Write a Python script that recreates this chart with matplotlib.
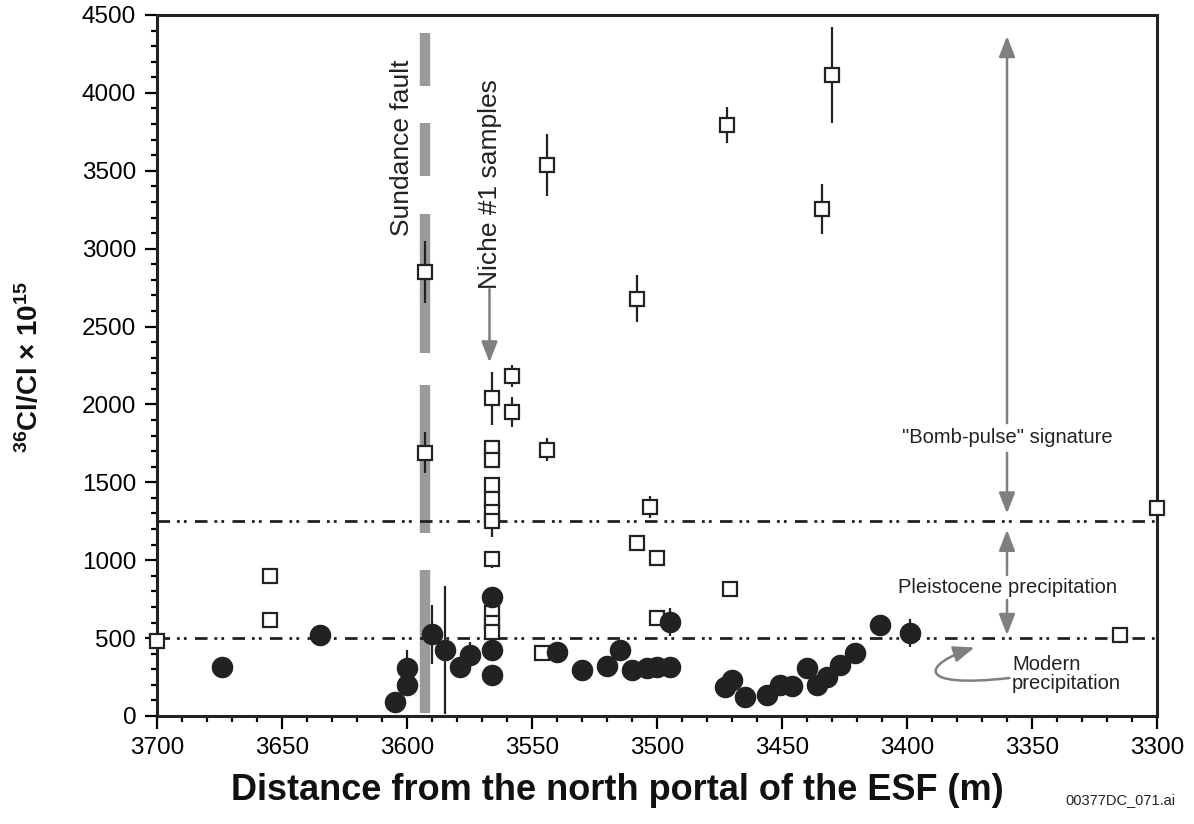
import matplotlib
matplotlib.use("Agg")
import matplotlib.pyplot as plt
from matplotlib.patches import FancyArrowPatch
from matplotlib.path import Path
from matplotlib.ticker import MultipleLocator

plt.rcParams['font.family'] = ['Liberation Sans', 'DejaVu Sans']
plt.rcParams['mathtext.fontset'] = 'custom'
plt.rcParams['mathtext.rm'] = 'Liberation Sans:bold'
plt.rcParams['mathtext.bf'] = 'Liberation Sans:bold'
plt.rcParams['mathtext.default'] = 'bf'

# open squares: distance (m), 36Cl/Cl x 1e15, error
sq_x = [3700, 3655, 3655, 3593, 3593,
        3566, 3566, 3566, 3566, 3566, 3566, 3566, 3566, 3566, 3566, 3566,
        3558, 3558, 3544, 3544, 3546, 3508,
        3503, 3508, 3500, 3471, 3500,
        3472, 3430, 3434, 3300, 3315]
sq_y = [480, 900, 616, 2850, 1690,
        2040, 1720, 1645, 1485, 1390, 1310, 1250, 1005, 660, 600, 540,
        2180, 1950, 1710, 3535, 404, 2680,
        1342, 1110, 1014, 815, 629,
        3794, 4115, 3254, 1335, 520]
sq_err = [0, 0, 0, 200, 130,
          170, 40, 40, 40, 30, 30, 100, 55, 30, 30, 30,
          70, 95, 75, 200, 0, 150,
          70, 40, 50, 0, 0,
          115, 310, 160, 0, 0]

# filled circles
ci_x = [3674, 3635, 3605, 3600, 3600, 3590, 3585, 3579, 3575,
        3566, 3566, 3566, 3540, 3530, 3520, 3515, 3510, 3504, 3500, 3495, 3495,
        3473, 3470, 3465, 3456, 3451, 3446, 3440, 3436, 3432, 3427, 3421,
        3411, 3399]
ci_y = [315, 520, 90, 200, 308, 525, 424, 315, 392,
        764, 424, 263, 411, 295, 320, 424, 295, 308, 315, 315, 603,
        186, 231, 122, 135, 199, 190, 308, 199, 250, 327, 404,
        584, 532]
ci_err = [0, 0, 0, 0, 115, 190, 410, 0, 80,
          0, 0, 0, 0, 0, 0, 0, 0, 0, 0, 0, 90,
          0, 0, 0, 0, 0, 0, 0, 0, 0, 0, 0,
          0, 90]

# Sundance fault trace (dashed band) and reference levels
fault_x = 3593
fault_lo = [4045, 3468, 2333, 1173, 19]
fault_hi = [4385, 3808, 3224, 2122, 936]
bomb_level = 1250
modern_level = 500

fig = plt.figure(figsize=(11.94, 8.24), dpi=100)
ax = fig.add_axes([157 / 1194, 108 / 824, 1000 / 1194, 701 / 824])

ax.vlines([fault_x] * len(fault_lo), fault_lo, fault_hi, colors='#9a9a9a',
          linewidth=7.5, zorder=1)

dd = (0, (4.5, 2.5, 1, 1.5, 1, 3))
for lev in [bomb_level, modern_level]:
    ax.axhline(lev, color='#222222', lw=2.0, linestyle=dd, zorder=2)

sq = ax.errorbar(sq_x, sq_y, yerr=sq_err, fmt='s', ms=9.5, mfc='white',
                 mec='#222222', mew=1.6, ecolor='#222222', elinewidth=1.6,
                 capsize=0, zorder=4)
sq[0].set_clip_on(False)
ax.errorbar(ci_x, ci_y, yerr=ci_err, fmt='o', ms=14.5, mfc='#222222',
            mec='#222222', ecolor='#222222', elinewidth=1.6, capsize=0,
            zorder=5)

ax.set_xlim(3700, 3300)
ax.set_ylim(0, 4500)
ax.xaxis.set_major_locator(MultipleLocator(50))
ax.xaxis.set_minor_locator(MultipleLocator(10))
ax.yaxis.set_major_locator(MultipleLocator(500))
ax.yaxis.set_minor_locator(MultipleLocator(100))
ax.tick_params(which='both', direction='out', width=1.6, labelsize=17.5,
               top=False, right=False)
ax.tick_params(which='major', length=9, pad=6)
ax.tick_params(which='minor', length=4.5)
for s in ax.spines.values():
    s.set_linewidth(2.2)
    s.set_color('#222222')

gray = '#7f7f7f'
arrow_kw = dict(arrowstyle='-|>,head_length=0.9,head_width=0.35',
                color=gray, lw=1.8, shrinkA=0, shrinkB=0, mutation_scale=14)

# annotations
ax.text(3602, 3645, 'Sundance fault', rotation=90, ha='center', va='center',
        fontsize=19, color='#222222')
ax.text(3567, 2740, 'Niche #1 samples', rotation=90, ha='center',
        va='bottom', fontsize=19, color='#222222')
ax.annotate('', xy=(3567, 2270), xytext=(3567, 2740), arrowprops=arrow_kw)

ax.text(3360, 1788, '"Bomb-pulse" signature', ha='center', va='center',
        fontsize=14.5, color='#222222')
ax.annotate('', xy=(3360, 4365), xytext=(3360, 1880), arrowprops=arrow_kw)
ax.annotate('', xy=(3360, 1300), xytext=(3360, 1690), arrowprops=arrow_kw)
ax.annotate('', xy=(3360, 1195), xytext=(3360, 905), arrowprops=arrow_kw)
ax.text(3360, 827, 'Pleistocene precipitation', ha='center', va='center',
        fontsize=14.5, color='#222222')
ax.annotate('', xy=(3360, 520), xytext=(3360, 745), arrowprops=arrow_kw)

ax.text(3358, 270, 'Modern\nprecipitation', ha='left', va='center',
        fontsize=14.5, linespacing=1.0, color='#222222')
hook = Path([(3359, 244), (3397, 175), (3394, 330), (3373, 440)],
            [Path.MOVETO, Path.CURVE4, Path.CURVE4, Path.CURVE4])
ax.add_patch(FancyArrowPatch(path=hook, **arrow_kw))

fig.text(617 / 1194, 1 - 790 / 824,
         'Distance from the north portal of the ESF (m)', ha='center',
         va='center', fontsize=26, fontweight='bold', color='#111111')
fig.text(30 / 1194, 1 - 367 / 824, r'$^{36}$Cl/Cl $\times$ 10$^{15}$',
         rotation=90, ha='center', va='center', fontsize=20,
         fontweight='bold', color='#111111')
fig.text(1175 / 1194, 1 - 800 / 824, '00377DC_071.ai', ha='right',
         va='center', fontsize=10.5, color='#222222')

fig.savefig('out.png', dpi=100)
